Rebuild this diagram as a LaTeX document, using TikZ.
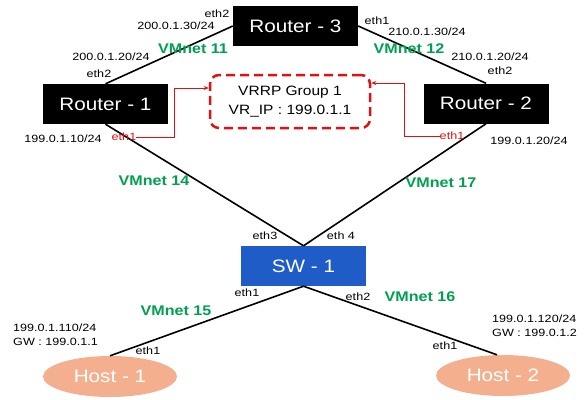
\documentclass[tikz,border=0pt]{standalone}
\usepackage{fontspec}
\setmainfont{Liberation Sans}
\newfontfamily\labfont[FakeStretch=1.2]{Liberation Sans}
\newfontfamily\bigfont[FakeStretch=1.15]{Liberation Sans}
\usetikzlibrary{arrows.meta,shapes.geometric}
\definecolor{swblue}{RGB}{31,92,199}
\definecolor{hostsalmon}{RGB}{244,176,142}
\definecolor{netgreen}{RGB}{0,160,80}
\definecolor{vrred}{RGB}{226,16,16}
\tikzset{
  router/.style={fill=black,text=white,minimum width=125pt,minimum height=40pt,inner sep=0pt,font=\bigfont\fontsize{18}{20}\selectfont},
  switchbox/.style={fill=swblue,text=white,minimum width=125pt,minimum height=40pt,inner sep=0pt,font=\bigfont\fontsize{18}{20}\selectfont},
  hostnode/.style={ellipse,fill=hostsalmon,text=white,minimum width=134pt,minimum height=41pt,inner sep=0pt,font=\bigfont\fontsize{18}{20}\selectfont},
  vrrpbox/.style={draw=vrred,line width=2.5pt,dash pattern=on 9pt off 5pt,rounded corners=9pt,minimum width=160pt,minimum height=53pt,align=center,font=\bigfont\fontsize{13.5}{19}\selectfont},
  lab/.style={inner sep=0pt,font=\labfont\fontsize{10.5}{14}\selectfont},
  lablt/.style={lab,anchor=west,align=left},
  redlab/.style={lab,text=vrred},
  net/.style={inner sep=0pt,text=netgreen,font=\bigfont\bfseries\fontsize{14}{16}\selectfont},
  link/.style={line width=1.6pt},
  redlink/.style={draw=vrred,line width=0.8pt,-{Stealth[length=5pt,width=4pt]}}
}
\begin{document}
\begin{tikzpicture}[x=1pt,y=-1pt]
\useasboundingbox (0,0) rectangle (586,399);
% devices
\node[router] (r3) at (295.5,26) {Router - 3};
\node[router] (r1) at (105.5,104) {Router - 1};
\node[router] (r2) at (486,103.5) {Router - 2};
\node[switchbox] (sw) at (303.5,266) {SW - 1};
\node[hostnode] (h1) at (110,376.5) {Host - 1};
\node[hostnode] (h2) at (503,375.5) {Host - 2};
\node[vrrpbox] (vr) at (290,101.5) {VRRP Group 1\\VR\_IP : 199.0.1.1};
% links
\draw[link] (r1.north) -- (r3.west);
\draw[link] (r3.east) -- (r2.north);
\draw[link] (r1.south) -- (sw.north);
\draw[link] (r2.south) -- (sw.north);
\draw[link] (sw.south) -- (h1.north);
\draw[link] (sw.south) -- ([xshift=-6pt]h2.north);
% labels top
\node[lab] (l1) at (217,14) {eth2};
\node[lab] (l2) at (176,26) {200.0.1.30/24};
\node[lab] (l3) at (111,57) {200.0.1.20/24};
\node[lab] (l4) at (99,74) {eth2};
\node[net] (n11) at (193,49) {VMnet 11};
\node[lab] (l5) at (63,139) {199.0.1.10/24};
\node[redlab] (e1l) at (124,137) {eth1};
\node[lab] (l6) at (377,21) {eth1};
\node[lab] (l7) at (427,32) {210.0.1.30/24};
\node[net] (n12) at (409,49) {VMnet 12};
\node[lab] (l8) at (490,57) {210.0.1.20/24};
\node[lab] (l9) at (500,71) {eth2};
\node[redlab] (e1r) at (452,136) {eth1};
\node[lab] (l10) at (529,141) {199.0.1.20/24};
% middle
\node[net] (n14) at (154,181) {VMnet 14};
\node[net] (n17) at (441,183) {VMnet 17};
\node[lab] (l11) at (265,236) {eth3};
\node[lab] (l12) at (341,236) {eth 4};
\node[lab] (l13) at (247,293) {eth1};
\node[net] (n15) at (176,311) {VMnet 15};
\node[lab] (l14) at (358,297) {eth2};
\node[net] (n16) at (420,297) {VMnet 16};
\node[lablt] (l15) at (13,334.5) {199.0.1.110/24\\GW : 199.0.1.1};
\node[lab] (l16) at (148,351) {eth1};
\node[lablt] (l17) at (492,326) {199.0.1.120/24\\GW : 199.0.1.2};
\node[lab] (l18) at (445,346) {eth1};
% red arrows
\coordinate (a1) at (174,88);
\coordinate (a2) at (404,83);
\draw[redlink] (e1l.east) -| (a1) -- (vr.west |- a1);
\draw[redlink] (e1r.west) -| (a2) -- (vr.east |- a2);
\end{tikzpicture}
\end{document}
